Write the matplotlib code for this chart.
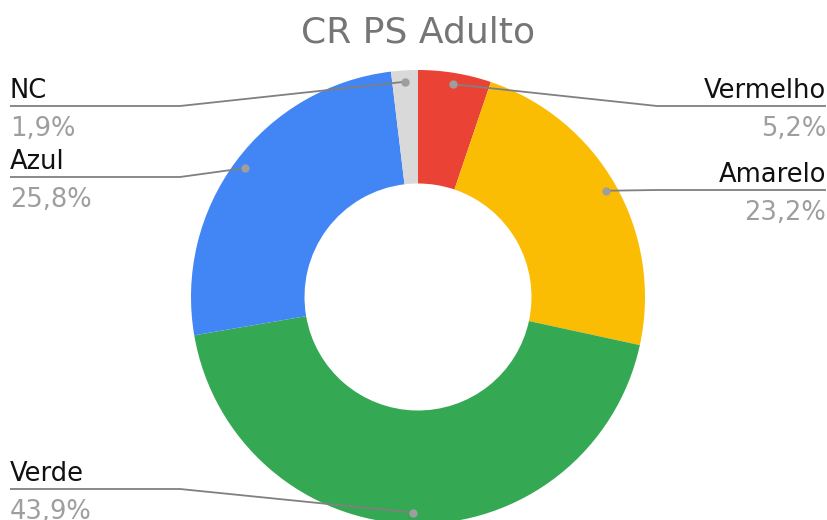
import numpy as np
import matplotlib.pyplot as plt

# dados
categorias = ["Vermelho", "Amarelo", "Verde", "Azul", "NC"]
valores = [5.2, 23.2, 43.9, 25.8, 1.9]
rotulos_pct = ["5,2%", "23,2%", "43,9%", "25,8%", "1,9%"]
cores = ["#EA4335", "#FBBC04", "#34A853", "#4285F4", "#D9D9D9"]

W, H = 828, 520
fig = plt.figure(figsize=(W / 100, H / 100), dpi=100)
ax = fig.add_axes([0, 0, 1, 1])

cx, cy = 418, H - 297   # centro em coordenadas de pixel (y para cima)
R = 227

ax.pie(valores, colors=cores, startangle=90, counterclock=False,
       center=(cx, cy), radius=R,
       wedgeprops=dict(width=R * 0.5, linewidth=0))

ax.set_xlim(0, W)
ax.set_ylim(0, H)
ax.set_aspect("equal")
ax.axis("off")

# posição de cada rótulo: (lado, y da linha em pixels a partir do topo)
layout = {
    "Vermelho": ("right", 106),
    "Amarelo": ("right", 190),
    "Verde": ("left", 489),
    "Azul": ("left", 177),
    "NC": ("left", 106),
}

total = sum(valores)
acum = 0
for nome, v, pct in zip(categorias, valores, rotulos_pct):
    meio = (acum + v / 2) / total * 2 * np.pi
    acum += v
    px = cx + 0.95 * R * np.sin(meio)
    py = cy + 0.95 * R * np.cos(meio)
    lado, ly = layout[nome]
    ly = H - ly
    if lado == "left":
        xs = [px, 180, 10]
        xt, ha = 10, "left"
    else:
        xs = [px, 657, 826]
        xt, ha = 826, "right"
    ax.plot(xs, [py, ly, ly], color="#808080", lw=1.3, solid_capstyle="butt", zorder=3)
    ax.plot(px, py, "o", color="#9E9E9E", ms=5, zorder=4)
    ax.text(xt, ly + 8, nome, ha=ha, va="baseline", fontsize=18.5, color="#111111")
    ax.text(xt, ly - 30, pct, ha=ha, va="baseline", fontsize=18.5, color="#9E9E9E")

ax.text(418, H - 42, "CR PS Adulto", ha="center", va="baseline",
        fontsize=26, color="#757575")

fig.savefig("out.png", dpi=100)
